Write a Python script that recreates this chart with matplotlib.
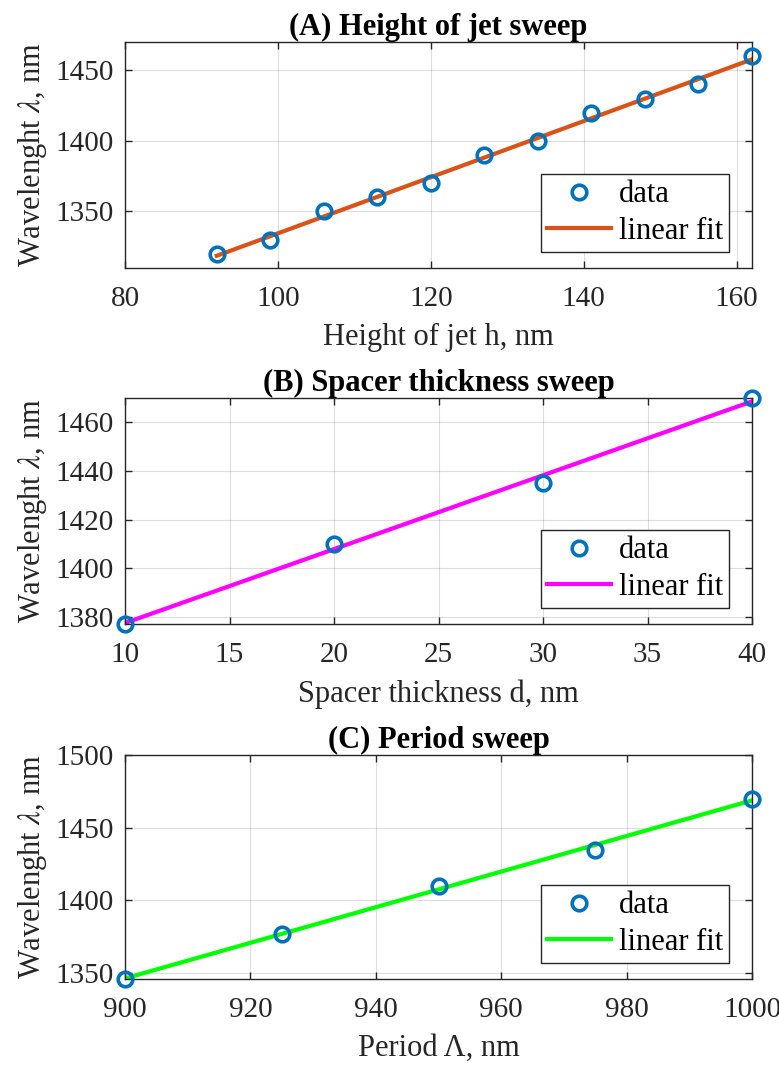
import numpy as np
import matplotlib
matplotlib.use("Agg")
import matplotlib.pyplot as plt

plt.rcParams['font.family'] = ['Liberation Serif', 'DejaVu Serif']
plt.rcParams['mathtext.fontset'] = 'stix'

# Data
h_vals = [92, 99, 106, 113, 120, 127, 134, 141, 148, 155, 162]
h_wl = [1320, 1330, 1350, 1360, 1370, 1390, 1400, 1420, 1430, 1440, 1460]
d_vals = [10, 20, 30, 40]
d_wl = [1377, 1410, 1435, 1470]
p_vals = [900, 925, 950, 975, 1000]
p_wl = [1346, 1377, 1410, 1435, 1470]

titles = ['(A) Height of jet sweep', '(B) Spacer thickness sweep', '(C) Period sweep']
xlabels = ['Height of jet h, nm', 'Spacer thickness d, nm', 'Period Λ, nm']
ylabel = r'Wavelenght $\lambda$, nm'
fit_colors = ['#D95319', '#FF00FF', '#00FF00']

W, H = 779, 1065
fig = plt.figure(figsize=(W/100, H/100), dpi=100)

boxes = [(125, 42, 752, 268), (125, 398, 752, 624), (125, 755, 752, 979)]
xlims = [(80, 162), (10, 40), (900, 1000)]
ylims = [(1310, 1470), (1377, 1470), (1346, 1500)]
xticks = [np.arange(80, 161, 20), np.arange(10, 41, 5), np.arange(900, 1001, 20)]
yticks = [[1350, 1400, 1450], np.arange(1380, 1461, 20), [1350, 1400, 1450, 1500]]

datasets = [(h_vals, h_wl), (d_vals, d_wl), (p_vals, p_wl)]
TICK_FS = 21
LAB_FS = 22

for i, ((x, y), (l, t, r, b)) in enumerate(zip(datasets, boxes)):
    aw, ah = (r - l), (b - t)
    ax = fig.add_axes([l/W, 1 - b/H, aw/W, ah/H])
    x = np.array(x, float); y = np.array(y, float)
    coef = np.polyfit(x, y, 1)
    xf = np.array([x.min(), x.max()])
    ax.plot(x, y, 'o', mfc='none', mec='#0072BD', mew=2.6, ms=10.5, label='data', zorder=3, clip_on=False)
    ax.plot(xf, np.polyval(coef, xf), '-', color=fit_colors[i], lw=3, label='linear fit', zorder=2)
    ax.set_xlim(*xlims[i]); ax.set_ylim(*ylims[i])
    ax.set_xticks(xticks[i]); ax.set_yticks(yticks[i])
    ax.grid(True, color='#262626', alpha=0.15, lw=0.8)
    ax.tick_params(direction='in', top=True, right=True, labelsize=TICK_FS, length=5, width=1, colors='#262626')
    ax.tick_params(axis='x', pad=13)
    ax.tick_params(axis='y', pad=8)
    for s in ax.spines.values():
        s.set_color('#262626'); s.set_linewidth(1)
    ax.set_title(titles[i], fontsize=LAB_FS, fontweight='bold', pad=5)
    ax.set_xlabel(xlabels[i], fontsize=LAB_FS, color='#262626', labelpad=8)
    ax.set_ylabel(ylabel, fontsize=LAB_FS, color='#262626', labelpad=5)
    leg = ax.legend(loc='lower right', bbox_to_anchor=(1 - 23/aw, 16/ah), borderaxespad=0,
                    fontsize=LAB_FS, frameon=True, fancybox=False,
                    edgecolor='#262626', framealpha=1,
                    handlelength=2.1, handletextpad=0.25, borderpad=0.2, labelspacing=0.25)
    leg.get_frame().set_linewidth(1)

fig.savefig('out.png', dpi=100)
